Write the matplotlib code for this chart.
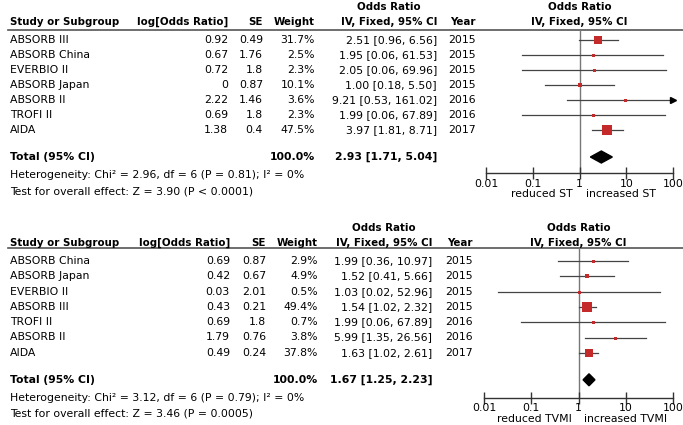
import matplotlib
matplotlib.use("Agg")
import matplotlib.pyplot as plt

# ---- data: stent thrombosis (ST) ----
studies_st = ["ABSORB III", "ABSORB China", "EVERBIO II", "ABSORB Japan", "ABSORB II", "TROFI II", "AIDA"]
logor_st = [0.92, 0.67, 0.72, 0, 2.22, 0.69, 1.38]
se_st = [0.49, 1.76, 1.8, 0.87, 1.46, 1.8, 0.4]
weight_st = [31.7, 2.5, 2.3, 10.1, 3.6, 2.3, 47.5]
or_st = [2.51, 1.95, 2.05, 1.00, 9.21, 1.99, 3.97]
lo_st = [0.96, 0.06, 0.06, 0.18, 0.53, 0.06, 1.81]
hi_st = [6.56, 61.53, 69.96, 5.50, 161.02, 67.89, 8.71]
year_st = [2015, 2015, 2015, 2015, 2016, 2016, 2017]
total_st = [2.93, 1.71, 5.04]
het_st = "Heterogeneity: Chi\u00b2 = 2.96, df = 6 (P = 0.81); I\u00b2 = 0%"
test_st = "Test for overall effect: Z = 3.90 (P < 0.0001)"

# ---- data: target vessel MI (TVMI) ----
studies_tv = ["ABSORB China", "ABSORB Japan", "EVERBIO II", "ABSORB III", "TROFI II", "ABSORB II", "AIDA"]
logor_tv = [0.69, 0.42, 0.03, 0.43, 0.69, 1.79, 0.49]
se_tv = [0.87, 0.67, 2.01, 0.21, 1.8, 0.76, 0.24]
weight_tv = [2.9, 4.9, 0.5, 49.4, 0.7, 3.8, 37.8]
or_tv = [1.99, 1.52, 1.03, 1.54, 1.99, 5.99, 1.63]
lo_tv = [0.36, 0.41, 0.02, 1.02, 0.06, 1.35, 1.02]
hi_tv = [10.97, 5.66, 52.96, 2.32, 67.89, 26.56, 2.61]
year_tv = [2015, 2015, 2015, 2015, 2016, 2016, 2017]
total_tv = [1.67, 1.25, 2.23]
het_tv = "Heterogeneity: Chi\u00b2 = 3.12, df = 6 (P = 0.79); I\u00b2 = 0%"
test_tv = "Test for overall effect: Z = 3.46 (P = 0.0005)"

W, H = 683, 425
FS = 7.8
FSB = 7.4
RED = "#c42a2a"

plt.rcParams["font.family"] = ["DejaVu Sans"]
fig = plt.figure(figsize=(W / 100, H / 100), dpi=100)
bg = fig.add_axes([0, 0, 1, 1])
bg.set_xlim(0, W)
bg.set_ylim(H, 0)
bg.axis("off")


def panel(top, hl, dy, cols, fx, studies, logor, se, weight, orv, lo, hi, year, total, het, test, label, gap):
    # top: y of "Odds Ratio" header line; cols: right edges of text columns
    xlog, xse, xw, xci, xyr = cols
    x0, x1 = fx
    hline = top + hl
    hdr = top + 15
    row0 = top + 33
    rows = [row0 + i * dy for i in range(len(studies))]
    ytot = row0 + 6 * dy + 27
    yaxis = ytot + gap

    bold = dict(fontsize=FSB, fontweight="bold", va="center")
    totb = dict(fontsize=FS, fontweight="bold", va="center")
    norm = dict(fontsize=FS, va="center")
    bg.text(10, hdr, "Study or Subgroup", ha="left", **bold)
    bg.text(xlog, hdr, "log[Odds Ratio]", ha="right", **bold)
    bg.text(xse, hdr, "SE", ha="right", **bold)
    bg.text(xw, hdr, "Weight", ha="right", **bold)
    bg.text(xci - 48, top, "Odds Ratio", ha="center", **bold)
    bg.text(xci - 48, hdr, "IV, Fixed, 95% CI", ha="center", **bold)
    bg.text(xyr, hdr, "Year", ha="right", **bold)
    bg.text((x0 + x1) / 2, top, "Odds Ratio", ha="center", **bold)
    bg.text((x0 + x1) / 2, hdr, "IV, Fixed, 95% CI", ha="center", **bold)
    bg.plot([8, W], [hline, hline], color="#555555", lw=1.2)

    for i, y in enumerate(rows):
        bg.text(10, y, studies[i], ha="left", **norm)
        bg.text(xlog, y, f"{logor[i]:g}", ha="right", **norm)
        bg.text(xse, y, f"{se[i]:g}", ha="right", **norm)
        bg.text(xw, y, f"{weight[i]:.1f}%", ha="right", **norm)
        bg.text(xci, y, f"{orv[i]:.2f} [{lo[i]:.2f}, {hi[i]:.2f}]", ha="right", **norm)
        bg.text(xyr, y, str(year[i]), ha="right", **norm)

    bg.text(10, ytot, "Total (95% CI)", ha="left", **totb)
    bg.text(xw, ytot, "100.0%", ha="right", **totb)
    bg.text(xci, ytot, f"{total[0]:.2f} [{total[1]:.2f}, {total[2]:.2f}]", ha="right", **totb)
    bg.text(10, ytot + 18, het, ha="left", **norm)
    bg.text(10, ytot + 34, test, ha="left", **norm)

    # forest axes: pixel rows on y, odds ratio (log) on x
    ax = fig.add_axes([x0 / W, 1 - yaxis / H, (x1 - x0) / W, (yaxis - hline) / H])
    ax.set_xscale("log")
    ax.set_xlim(0.01, 100)
    ax.set_ylim(yaxis, hline)
    ax.patch.set_alpha(0)
    for s in ("top", "left", "right"):
        ax.spines[s].set_visible(False)
    ax.spines["bottom"].set_linewidth(1.0)
    ax.spines["bottom"].set_color("#333333")
    ax.set_yticks([])
    ax.set_xticks([0.01, 0.1, 1, 10, 100])
    ax.set_xticklabels(["0.01", "0.1", "1", "10", "100"])
    ax.minorticks_off()
    ax.tick_params(axis="x", direction="inout", length=8, width=1.0, labelsize=FS, pad=0, color="#333333")
    ax.axvline(1, color="#777777", lw=1.0, zorder=1)

    for i, y in enumerate(rows):
        ax.plot([lo[i], min(hi[i], 100)], [y, y], color="#444444", lw=0.9, zorder=2)
        if hi[i] > 100:
            ax.plot([100], [y], marker=">", color="black", ms=4, clip_on=False, zorder=3)
        side = max(3.0, 10.0 * (weight[i] / 47.5) ** 0.5)
        ax.plot([orv[i]], [y], marker="s", color=RED, ms=side * 0.72, mew=0, zorder=4)

    est, tlo, thi = total
    ax.fill([tlo, est, thi, est], [ytot, ytot - 6, ytot, ytot + 6], color="black", zorder=4)

    bg.text(x0 + (x1 - x0) / 2 - 7, yaxis + 21, "reduced " + label, ha="right", **norm)
    bg.text(x0 + (x1 - x0) / 2 + 6, yaxis + 21, "increased " + label, ha="left", **norm)


panel(7, 23, 15, (228, 263, 315, 437, 476), (486, 673),
      studies_st, logor_st, se_st, weight_st, or_st, lo_st, hi_st, year_st, total_st, het_st, test_st, "ST", 16)
panel(228, 20, 15.3, (230, 266, 318, 432, 473), (484, 673),
      studies_tv, logor_tv, se_tv, weight_tv, or_tv, lo_tv, hi_tv, year_tv, total_tv, het_tv, test_tv, "TVMI", 18)

fig.savefig("out.png", dpi=100)
